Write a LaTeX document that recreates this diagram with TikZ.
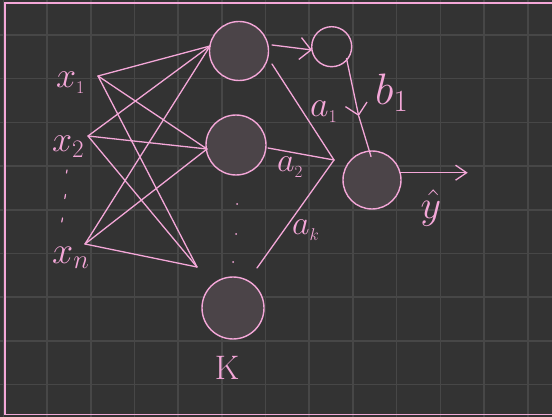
\RequirePackage{fix-cm}
\documentclass[tikz,border=0pt]{standalone}
\usetikzlibrary{arrows.meta}
\definecolor{bgcol}{HTML}{333333}
\definecolor{gridcol}{HTML}{474747}
\definecolor{pinkc}{HTML}{F4A7D8}
\definecolor{cellfill}{HTML}{4B4448}
\tikzset{
  gridline/.style={draw=gridcol, line width=1.6pt},
  frameline/.style={draw=pinkc, line width=1.8pt},
  wire/.style={draw=pinkc, line width=1.3pt, line cap=round},
  neuron/.style={circle, draw=pinkc, fill=cellfill, line width=1.4pt, inner sep=0pt},
  biascirc/.style={circle, draw=pinkc, line width=1.4pt, inner sep=0pt},
  lbl/.style={text=pinkc, inner sep=0pt},
  barb/.style={-{Straight Barb[length=11pt,width=22pt,line width=1.3pt]}},
  smallbarb/.style={-{Straight Barb[length=11pt,width=15pt,line width=1.3pt]}},
  dotmark/.style={draw=pinkc, line width=1.2pt, line cap=round}
}
\begin{document}
\begin{tikzpicture}[x=1pt,y=-1pt]
\useasboundingbox (0,0) rectangle (552,417);
\fill[bgcol] (0,0) rectangle (552,417);
% grid
\foreach \i in {0,...,12} \draw[gridline] ({3.3+43.7*\i},0) -- ++(0,417);
\foreach \j in {0,...,8} \draw[gridline] (0,{35+43.7*\j}) -- ++(552,0);
% frame (open at right)
\draw[frameline] (552,3) -- (4.7,3) -- (4.7,414.5) -- (552,414.5);

% neurons
\node[neuron, minimum size=59pt] (h1) at (239,51) {};
\node[neuron, minimum size=60pt] (h2) at (236,145) {};
\node[neuron, minimum size=62pt] (hk) at (233,308) {};
\node[neuron, minimum size=58pt] (out) at (372,180) {};
\node[biascirc, minimum size=40pt] (bias) at (331.7,46.7) {};

% input hubs and targets
\coordinate (i1) at (98,76);
\coordinate (i2) at (88,136);
\coordinate (in) at (85,244);
\coordinate (t1) at (210,46);
\coordinate (t2) at (207,149);
\coordinate (t3) at (197,267);
\foreach \s in {i1,i2,in}
  \foreach \t in {t1,t2,t3}
    \draw[wire] (\s) -- (\t);

% hidden to junction
\coordinate (j) at (334,160);
\coordinate (s1) at (272,64);
\coordinate (s2) at (268,148);
\coordinate (sk) at (257,268);
\draw[wire] (s1) -- (j);
\draw[wire] (s2) -- (j);
\draw[wire] (sk) -- (j);

% h1 to bias arrow
\coordinate (a0) at (272,45);
\coordinate (a1) at (312,50);
\draw[wire, barb] (a0) -- (a1);

% bias to output with mid arrow
\coordinate (b0) at (346.5,58.5);
\coordinate (bm) at (358.7,116);
\coordinate (b1) at (371,156.5);
\draw[wire, barb] (b0) -- (bm);
\draw[wire] (bm) -- (b1);

% output arrow
\coordinate (o0) at (400.5,172.7);
\coordinate (o1) at (467.7,172.7);
\draw[wire, smallbarb] (o0) -- (o1);

% dots
\draw[dotmark] (67,170) -- (66.5,173);
\draw[dotmark] (65.5,194.5) -- (64.8,198.5);
\draw[dotmark] (62.5,218) -- (61.8,222);
\fill[pinkc] (237,204) circle (1pt);
\fill[pinkc] (236,234) circle (1pt);
\fill[pinkc] (233,262) circle (1pt);

% labels
\node[lbl, anchor=base west] (lx1) at (56,88) {\fontsize{36}{36}\selectfont$x_{\scriptscriptstyle 1}$};
\node[lbl, anchor=base west] (lx2) at (52,152) {\fontsize{36}{36}\selectfont$x_2$};
\node[lbl, anchor=base west] (lxn) at (52,263) {\fontsize{38}{38}\selectfont$x_n$};
\node[lbl, anchor=base west] (la1) at (310,117) {\fontsize{36}{36}\selectfont$a_{\scriptscriptstyle 1}$};
\node[lbl, anchor=base west] (la2) at (277,172) {\fontsize{34}{34}\selectfont$a_{\scriptscriptstyle 2}$};
\node[lbl, anchor=base west] (lak) at (292,235) {\fontsize{34}{34}\selectfont$a_{\scriptscriptstyle k}$};
\node[lbl, anchor=base west] (lb1) at (375,105) {\fontsize{44}{44}\selectfont$b_1$};
\node[lbl] (ly) at (431,208) {\fontsize{40}{40}\selectfont$\hat{y}$};
\node[lbl] (lK) at (227,368) {\fontsize{34}{34}\selectfont K};
\end{tikzpicture}
\end{document}
